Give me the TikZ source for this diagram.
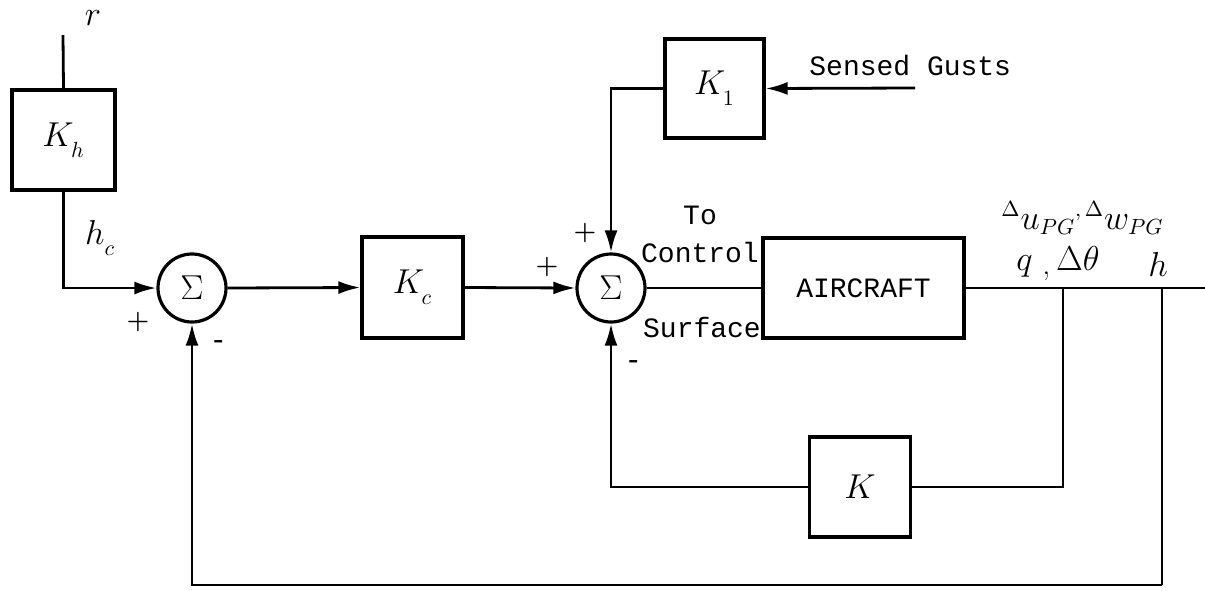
\documentclass[tikz,border=0pt]{standalone}
\usepackage{fontspec}
\setmonofont{Liberation Mono}
\usetikzlibrary{arrows.meta}
\newcommand\dnsub[1]{_{\raisebox{-3pt}{$\scriptstyle #1$}}}
\begin{document}
\begin{tikzpicture}[x=0.5pt,y=-0.5pt,
  line width=1.4pt,
  blk/.style={draw,line width=1.6pt,inner sep=0pt,font=\fontsize{16}{18}\selectfont},
  sumc/.style={draw,circle,line width=1.6pt,minimum size=34pt,inner sep=0pt,font=\fontsize{18}{20}\selectfont},
  lbl/.style={font=\fontsize{14}{16}\selectfont\ttfamily,inner sep=0pt},
  mlbl/.style={font=\fontsize{16}{18}\selectfont,inner sep=0pt},
  sgn/.style={font=\fontsize{13}{15}\selectfont\bfseries,inner sep=0pt},
  arr/.style={-{Latex[length=11pt,width=6.5pt]}}]
\useasboundingbox (0,0) rectangle (1205,590);
% blocks
\node[blk,minimum width=51.5pt,minimum height=50pt] (Kh) at (63.5,140) {$K\dnsub{h}$};
\node[blk,minimum width=50.5pt,minimum height=50.5pt] (Kc) at (412.5,287.5) {$K\dnsub{c}$};
\node[blk,minimum width=49.5pt,minimum height=49.5pt] (K1) at (714.5,88.5) {$K\dnsub{1}$};
\node[blk,minimum width=100.5pt,minimum height=50pt,font=\fontsize{14}{16}\selectfont\ttfamily] (AC) at (863.5,288) {AIRCRAFT};
\node[blk,minimum width=50.5pt,minimum height=50pt] (K) at (860,487) {$K$};
\node[sumc] (S1) at (192,288) {$\Sigma$};
\node[sumc] (S2) at (611,288) {$\Sigma$};
% coordinates
\coordinate (rtop) at (63,35);
\coordinate (gust) at (915,88);
\coordinate (out) at (1205,288);
\coordinate (b1) at (1063,288);
\coordinate (b2) at (1162,288);
\coordinate (bot) at (1162,585);
% connectors
\draw (rtop) -- (Kh.north);
\draw[arr] (Kh.south) |- (S1.west);
\draw[arr] (S1.east) -- (Kc.west);
\draw[arr] (Kc.east) -- (S2.west);
\draw[arr] (gust) -- (K1.east);
\draw[arr] (K1.west) -| (S2.north);
\draw (S2.east) -- (AC.west);
\draw (AC.east) -- (out);
\draw (b1) |- (K.east);
\draw[arr] (K.west) -| (S2.south);
\draw (b2) -- (bot);
\draw[arr] (bot) -| (S1.south);
% labels
\node[mlbl] (lr) at (93,18) {$r$};
\node[mlbl] (lhc) at (100,238) {$h\dnsub{c}$};
\node[sgn] (p1) at (138,322) {+};
\node[sgn] (m1) at (219,344) {-};
\node[sgn] (p2) at (585,233) {+};
\node[sgn] (p3) at (547,267) {+};
\node[sgn] (m2) at (634,364) {-};
\node[lbl] (lto) at (700,215) {To};
\node[lbl] (lctl) at (700,252) {Control};
\node[lbl] (lsf) at (702,327) {Surface};
\node[lbl,anchor=west] (lsg) at (808,66) {Sensed Gusts};
\node[mlbl,anchor=west] (lout1) at (1000,218) {$^{\Delta}u_{PG}{}^{,\,\Delta}w_{PG}$};
\node[mlbl,anchor=west] (lout2) at (1015,264) {$q$~\raisebox{-2pt}{,}$\,\Delta\theta$};
\node[mlbl] (lh) at (1158,264) {$h$};
\end{tikzpicture}
\end{document}
